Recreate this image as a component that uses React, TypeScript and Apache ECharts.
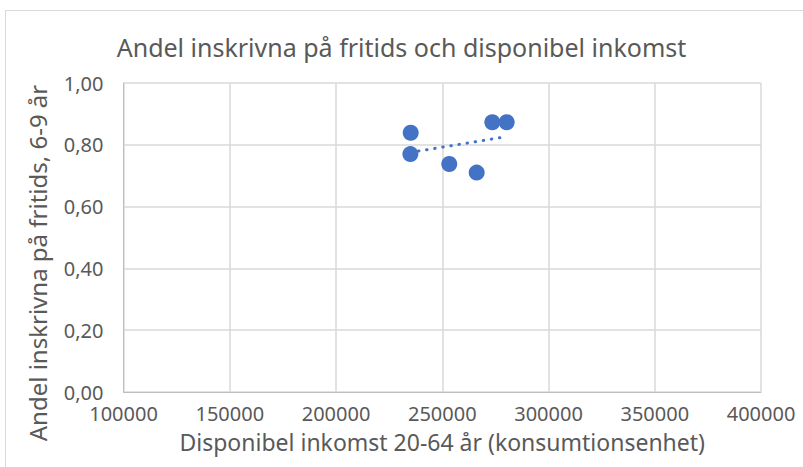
import React, { useEffect, useRef } from "react";
import * as echarts from "echarts";

const incomes = [235150, 235000, 253300, 266200, 273560, 280330];
const shares = [0.839, 0.77, 0.738, 0.71, 0.873, 0.873];
const xTicks = [100000, 400000, 50000];
const yTicks = [0, 1, 0.2];
const titleText = "Andel inskrivna på fritids och disponibel inkomst";
const xName = "Disponibel inkomst 20-64 år (konsumtionsenhet)";
const yName = "Andel inskrivna på fritids, 6-9 år";

function trend(xs: number[], ys: number[]) {
  const n = xs.length;
  const mx = xs.reduce((a, b) => a + b, 0) / n;
  const my = ys.reduce((a, b) => a + b, 0) / n;
  let sxy = 0, sxx = 0;
  for (let i = 0; i < n; i++) {
    sxy += (xs[i] - mx) * (ys[i] - my);
    sxx += (xs[i] - mx) ** 2;
  }
  const k = sxy / sxx;
  const x0 = Math.min(...xs), x1 = Math.max(...xs);
  return [[x0, my + k * (x0 - mx)], [x1, my + k * (x1 - mx)]];
}

const FONT = "Noto Sans";
const TXT = "#595959";

export default function App() {
  const ref = useRef<HTMLDivElement>(null);
  useEffect(() => {
    const chart = echarts.init(ref.current!, undefined, { renderer: "svg" });
    chart.setOption({
      animation: false,
      backgroundColor: "#ffffff",
      title: {
        text: titleText,
        left: "center",
        top: 29,
        textStyle: { fontFamily: FONT, fontSize: 25, fontWeight: "normal", color: TXT },
      },
      graphic: [
        {
          type: "rect",
          shape: { x: 5.5, y: 10.5, width: 820, height: 500 },
          style: { fill: "none", stroke: "#d9d9d9", lineWidth: 1 },
          silent: true,
        },
        {
          type: "text",
          x: 37,
          y: 263,
          rotation: Math.PI / 2,
          silent: true,
          style: {
            text: yName,
            fontFamily: FONT,
            fontSize: 24,
            fill: TXT,
            align: "center",
            verticalAlign: "middle",
          },
        },
      ],
      grid: { left: 123.5, right: 42, top: 83, bottom: 75 },
      xAxis: {
        type: "value",
        min: xTicks[0],
        max: xTicks[1],
        interval: xTicks[2],
        name: xName,
        nameLocation: "middle",
        nameGap: 38,
        nameTextStyle: { fontFamily: FONT, fontSize: 23, color: TXT },
        axisLine: { show: true, lineStyle: { color: "#bfbfbf" } },
        axisTick: { show: false },
        axisLabel: {
          fontFamily: FONT,
          fontSize: 20,
          color: TXT,
          margin: 11,
          formatter: (v: number) => String(v),
        },
        splitLine: { show: true, lineStyle: { color: "#d9d9d9", width: 1.5 } },
      },
      yAxis: {
        type: "value",
        min: yTicks[0],
        max: yTicks[1],
        interval: yTicks[2],
        axisLine: { show: true, lineStyle: { color: "#bfbfbf" } },
        axisTick: { show: false },
        axisLabel: {
          fontFamily: FONT,
          fontSize: 20,
          color: TXT,
          margin: 20,
          formatter: (v: number) => v.toFixed(2).replace(".", ","),
        },
        splitLine: { show: true, lineStyle: { color: "#d9d9d9", width: 1.5 } },
      },
      series: [
        {
          type: "scatter",
          data: incomes.map((x, i) => [x, shares[i]]),
          symbolSize: 16,
          itemStyle: { color: "#4472c4", opacity: 1 },
          z: 3,
        },
        {
          type: "line",
          data: trend(incomes, shares),
          showSymbol: false,
          symbol: "none",
          lineStyle: { color: "#4472c4", width: 3, type: [0.5, 7.7], cap: "round" },
          z: 2,
        },
      ],
    });
    return () => chart.dispose();
  }, []);
  return <div ref={ref} style={{ position: "fixed", left: 0, top: 0, width: 803, height: 467 }} />;
}
